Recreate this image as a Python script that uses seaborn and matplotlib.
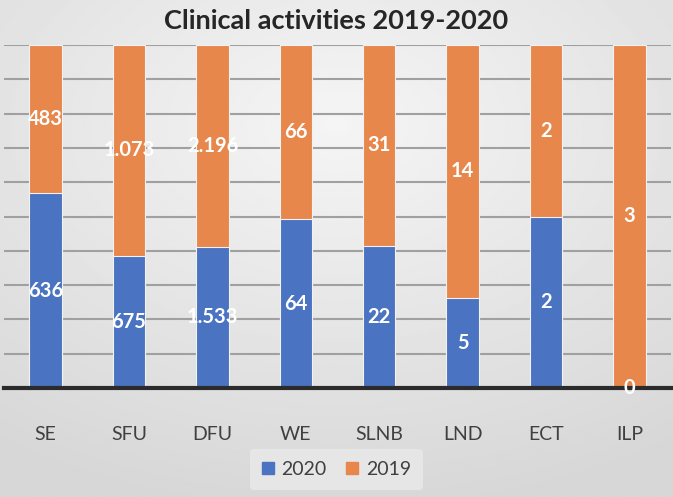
import numpy as np
import pandas as pd
import matplotlib
matplotlib.use('Agg')
import matplotlib.pyplot as plt
import seaborn as sns

# data
categories = ['SE', 'SFU', 'DFU', 'WE', 'SLNB', 'LND', 'ECT', 'ILP']
values_2020 = [636, 675, 1533, 64, 22, 5, 2, 0]
values_2019 = [483, 1073, 2196, 66, 31, 14, 2, 3]

BLUE = '#4a73c1'
ORANGE = '#e8874b'

sns.set_theme(style='white')
plt.rcParams['font.family'] = ['Lato', 'DejaVu Sans']

df = pd.DataFrame({'cat': categories, 'v2020': values_2020, 'v2019': values_2019})
df['total'] = df['v2020'] + df['v2019']
df['p2020'] = df['v2020'] / df['total'] * 100
df['p_all'] = 100.0

fig = plt.figure(figsize=(6.73, 4.97), dpi=100)

# gray gradient background (like the office slide)
bg = fig.add_axes([0, 0, 1, 1], zorder=-10)
yy, xx = np.mgrid[-1:1:200j, -1:1:270j]
r = np.sqrt((xx * 0.9) ** 2 + (yy + 0.5) ** 2)
bg.imshow(0.96 - 0.12 * np.clip(r, 0, 1.6) / 1.6, cmap='gray', vmin=0, vmax=1,
          aspect='auto', extent=[0, 1, 0, 1])
bg.axis('off')

ax = fig.add_axes([4 / 673, 109 / 497, 667 / 673, 343 / 497])
ax.patch.set_alpha(0)

sns.barplot(data=df, x='cat', y='p_all', color=ORANGE, width=0.39, ax=ax,
            edgecolor='#f2f2f2', linewidth=0.8, saturation=1, zorder=3)
sns.barplot(data=df, x='cat', y='p2020', color=BLUE, width=0.39, ax=ax,
            edgecolor='#f2f2f2', linewidth=0.8, saturation=1, zorder=3)

ax.set_ylim(0, 100)
ax.set_xlim(-0.5, 7.5)
ax.set_yticks(np.arange(0, 101, 10))
ax.yaxis.grid(True, color='#a0a0a0', linewidth=1.5, zorder=0)
ax.set_axisbelow(True)
ax.tick_params(axis='y', left=False, labelleft=False)
ax.tick_params(axis='x', bottom=False, labelsize=14, labelcolor='#404040', pad=21)
ax.set_xlabel('')
ax.set_ylabel('')
for s in ['top', 'right', 'left']:
    ax.spines[s].set_visible(False)
ax.spines['bottom'].set_color('#2b2b2b')
ax.spines['bottom'].set_linewidth(3)
ax.spines['bottom'].set_zorder(5)


def fmt(v):
    return f'{v:,}'.replace(',', '.')


for i, row in df.iterrows():
    ax.text(i, row['p2020'] / 2, fmt(row['v2020']), ha='center', va='center',
            color='white', fontsize=14.5, fontweight='bold', zorder=6)
    ax.text(i, row['p2020'] + (100 - row['p2020']) / 2, fmt(row['v2019']),
            ha='center', va='center', color='white', fontsize=14.5,
            fontweight='bold', zorder=6)

fig.text(0.5, 0.958, 'Clinical activities 2019-2020', ha='center', va='center',
         fontsize=19.5, fontweight='bold', color='#262626')

handles = [plt.Rectangle((0, 0), 1, 1, color=BLUE),
           plt.Rectangle((0, 0), 1, 1, color=ORANGE)]
leg = fig.legend(handles, ['2020', '2019'], loc='center', bbox_to_anchor=(0.5, 0.055),
                 ncol=2, frameon=True, fontsize=14, handlelength=0.6, handleheight=0.6,
                 handletextpad=0.4, columnspacing=1.0, borderpad=0.6)
leg.get_frame().set_facecolor('#e6e6e6')
leg.get_frame().set_edgecolor('none')
leg.get_frame().set_alpha(1)
for t in leg.get_texts():
    t.set_color('#404040')

fig.savefig('out.png', dpi=100)
